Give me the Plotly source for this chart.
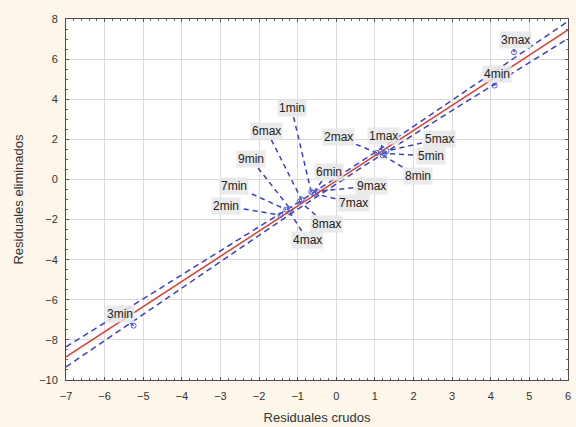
import numpy as np
import plotly.graph_objects as go

# Observations: raw vs. deleted residuals
OBSERVATIONS = ["1min", "2min", "3min", "4min", "5min", "6min", "7min", "8min", "9min",
                "1max", "2max", "3max", "4max", "5max", "6max", "7max", "8max", "9max"]
RAW_RESIDUALS = [-0.65, -1.45, -5.25, 4.10, 1.25, -0.60, -1.30, 1.20, -1.18,
                 1.15, 1.05, 4.60, -1.20, 1.30, -0.90, -0.55, -0.95, -0.50]
DELETED_RESIDUALS = [-0.62, -1.78, -7.29, 4.68, 1.30, -0.68, -1.50, 1.20, -1.50,
                     1.38, 1.32, 6.34, -1.65, 1.42, -1.00, -0.72, -1.10, -0.60]

# Fitted line and confidence band scale
FIT_INTERCEPT = -0.07
FIT_SLOPE = 1.254
BAND_SCALE = 0.62

X_RANGE = (-7, 6)
Y_RANGE = (-10, 8)

# Label placement (offset from each point, axis units)
LABEL_OFFSETS = {
    "1min": (-0.51, 4.18), "2min": (-1.41, 0.46), "3min": (-0.36, 0.58),
    "4min": (0.07, 0.58), "5min": (1.20, -0.13), "6min": (0.40, 1.05),
    "7min": (-1.35, 1.18), "8min": (0.91, -1.03), "9min": (-1.03, 2.52),
    "1max": (0.06, 0.79), "2max": (-1.00, 0.80), "3max": (0.03, 0.61),
    "4max": (0.45, -1.37), "5max": (1.38, 0.60), "6max": (-0.90, 3.42),
    "7max": (0.99, -0.45), "8max": (0.69, -1.12), "9max": (1.40, 0.28),
}

W, H = 576, 427
MARGIN = dict(l=66, r=5, t=19, b=47)
PX_X = (W - MARGIN["l"] - MARGIN["r"]) / (X_RANGE[1] - X_RANGE[0])
PX_Y = (H - MARGIN["t"] - MARGIN["b"]) / (Y_RANGE[1] - Y_RANGE[0])

BLUE = "#3a42c0"
RED = "#dd3b2c"
FONT = "Liberation Sans, Arial, sans-serif"

raw = np.array(RAW_RESIDUALS)
dele = np.array(DELETED_RESIDUALS)
n = len(raw)
xbar = raw.mean()
sxx = ((raw - xbar) ** 2).sum()

xs = np.linspace(X_RANGE[0], X_RANGE[1], 120)
fit = FIT_INTERCEPT + FIT_SLOPE * xs
half = BAND_SCALE * np.sqrt(1.0 / n + (xs - xbar) ** 2 / sxx)

fig = go.Figure()

# Leader lines from each label box edge to its point
lx, ly = [], []
for name, x0, y0 in zip(OBSERVATIONS, raw, dele):
    dx, dy = LABEL_OFFSETS[name]
    vx, vy = -dx * PX_X, -dy * PX_Y  # label -> point, pixels
    hw = len(name) * 3.5 + 4
    hh = 9
    tx = hw / abs(vx) if vx != 0 else np.inf
    ty = hh / abs(vy) if vy != 0 else np.inf
    t = min(tx, ty)
    if t >= 0.9:
        continue
    sx = x0 + dx - dx * t
    sy = y0 + dy - dy * t
    lx += [sx, x0, None]
    ly += [sy, y0, None]

fig.add_trace(go.Scatter(x=lx, y=ly, mode="lines",
                         line=dict(color=BLUE, width=1.5, dash="5px,4px"),
                         hoverinfo="skip", showlegend=False))

# Confidence band
fig.add_trace(go.Scatter(x=xs, y=fit + half, mode="lines",
                         line=dict(color=BLUE, width=1.5, dash="6px,4px"),
                         hoverinfo="skip", showlegend=False))
fig.add_trace(go.Scatter(x=xs, y=fit - half, mode="lines",
                         line=dict(color=BLUE, width=1.5, dash="6px,4px"),
                         hoverinfo="skip", showlegend=False))
# Fitted line
fig.add_trace(go.Scatter(x=[X_RANGE[0], X_RANGE[1]],
                         y=[FIT_INTERCEPT + FIT_SLOPE * X_RANGE[0],
                            FIT_INTERCEPT + FIT_SLOPE * X_RANGE[1]],
                         mode="lines", line=dict(color=RED, width=1.5),
                         hoverinfo="skip", showlegend=False))
# Points
fig.add_trace(go.Scatter(x=raw, y=dele, mode="markers",
                         marker=dict(symbol="circle-open", size=5,
                                     color="#5560c8", line=dict(width=1)),
                         text=OBSERVATIONS, showlegend=False))

for name, x0, y0 in zip(OBSERVATIONS, raw, dele):
    dx, dy = LABEL_OFFSETS[name]
    fig.add_annotation(x=x0 + dx, y=y0 + dy, text=name, showarrow=False,
                       font=dict(family=FONT, size=12, color="#222222"),
                       bgcolor="rgba(230,230,230,0.85)", borderpad=1)

axis_common = dict(showline=True, linecolor="#4a4a4a", linewidth=1, mirror="allticks",
                   ticks="inside", ticklen=3, tickcolor="#555555",
                   showgrid=True, gridcolor="#dadada", gridwidth=1,
                   zeroline=False, tickfont=dict(family=FONT, size=11, color="#333333"))

fig.update_xaxes(range=list(X_RANGE), dtick=1, tick0=0, ticklabelstandoff=6,
                 minor=dict(ticks="inside", ticklen=2, dtick=0.2, tickcolor="#666666",
                            showgrid=False),
                 title=dict(text="Residuales crudos", standoff=11,
                            font=dict(family=FONT, size=13, color="#333333")),
                 **axis_common)
fig.update_yaxes(range=list(Y_RANGE), dtick=2, tick0=0, ticklabelstandoff=5,
                 minor=dict(ticks="inside", ticklen=2, dtick=0.5, tickcolor="#666666",
                            showgrid=False),
                 title=dict(text="Residuales eliminados", standoff=12,
                            font=dict(family=FONT, size=13, color="#333333")),
                 **axis_common)

fig.update_layout(width=W, height=H, margin=MARGIN,
                  paper_bgcolor="#fcf7ea", plot_bgcolor="#ffffff",
                  showlegend=False)

fig.write_html("out.html")
